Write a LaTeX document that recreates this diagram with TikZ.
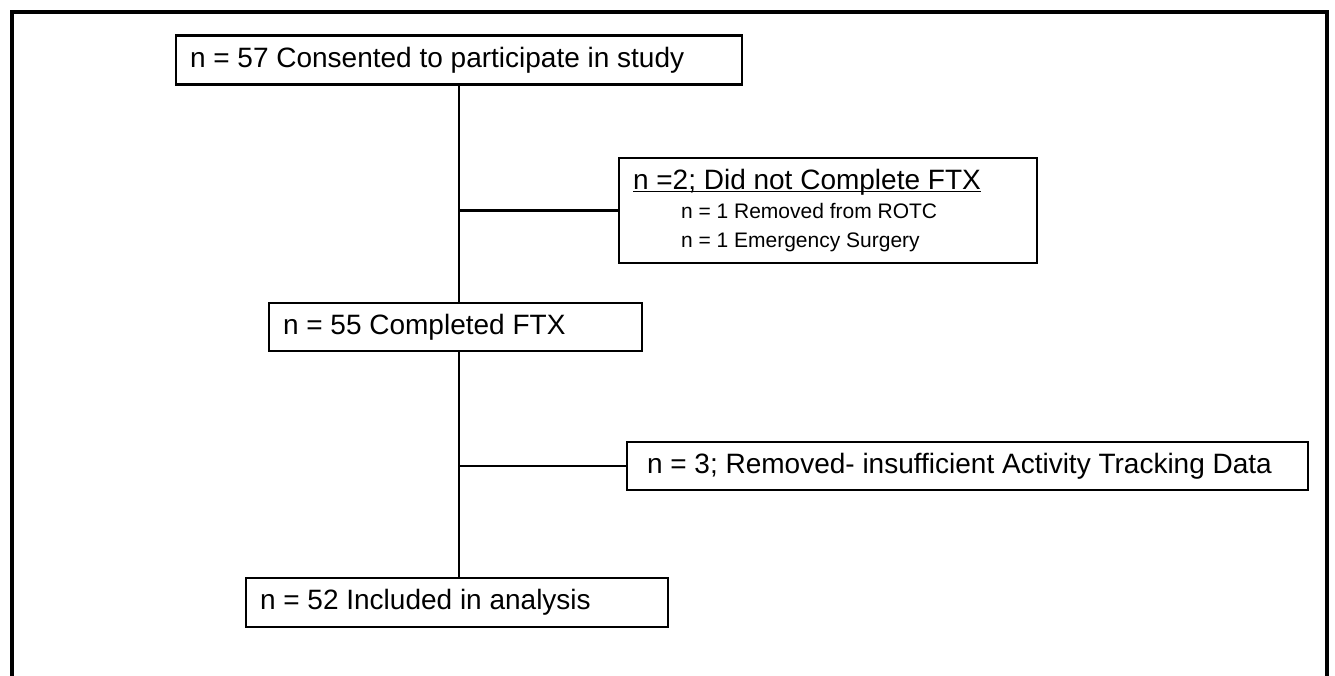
\documentclass[tikz,border=0pt]{standalone}
\usepackage{fontspec}
\setmainfont{Liberation Sans}
\newcommand{\subline}[1]{\hspace*{48pt}{\fontsize{21}{29}\selectfont #1}}
\newcommand{\headline}[1]{\underline{\raisebox{0pt}[\height][0pt]{#1}}}
\begin{document}
\begin{tikzpicture}[
        x=1pt, y=-1pt,
        box/.style={rectangle, draw=black, line width=2.6pt, inner xsep=14pt, inner ysep=0pt, minimum height=49pt, align=left, font=\fontsize{28}{34}\selectfont, execute at begin node={\spaceskip=0pt\xspaceskip=0pt}},
        subbox/.style={box, font=\fontsize{28}{29}\selectfont},
        line/.style={line width=2.2pt}
    ]
        \useasboundingbox (0,0) rectangle (1335,676);
        \draw[line width=4.5pt] (12,676) -- (12,12) -- (1327,12) -- (1327,676);

        \node (consent) [box, text width=538pt] at (459,60) {n = 57 Consented to participate in study};
        \node (dropftx) [subbox, text width=390pt, minimum height=105pt] at (828,210.5) {\headline{n =2; Did not Complete FTX}\\\subline{n = 1 Removed from ROTC}\\\subline{n = 1 Emergency Surgery}};
        \node (completed) [box, text width=345pt, minimum height=48pt] at (455.5,327) {n = 55 Completed FTX};
        \node (dropdata) [box, inner xsep=20pt, text width=641pt, minimum height=48pt] at (967.5,466) {n = 3; Removed- insufficient Activity Tracking Data};
        \node (analysis) [box, text width=394pt] at (457,602.5) {n = 52 Included in analysis};

        \draw[line] (consent.south) -- (consent.south |- completed.north);
        \draw[line] (consent.south |- completed.south) -- (consent.south |- analysis.north);
        \draw[line] (consent.south |- dropftx.west) -- (dropftx.west);
        \draw[line] (consent.south |- dropdata.west) -- (dropdata.west);
    \end{tikzpicture}
\end{document}
